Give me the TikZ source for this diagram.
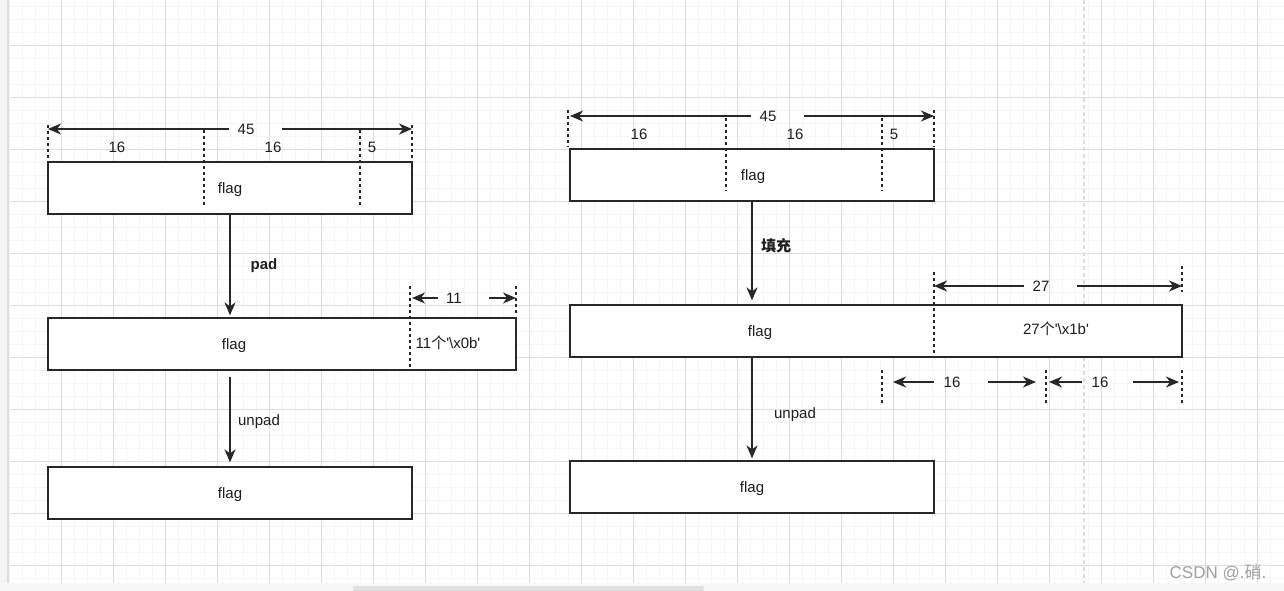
\documentclass[tikz,border=0pt]{standalone}
\usepackage{fontspec}
\setmainfont{Liberation Sans}
\newfontfamily\cjk{Noto Sans CJK SC}
\usepackage{xcolor}
\usetikzlibrary{arrows.meta, positioning, calc}
\definecolor{gridmajor}{RGB}{222, 222, 222}
\definecolor{gridminor}{RGB}{246, 246, 246}
\definecolor{boxline}{RGB}{40, 40, 40}
\definecolor{txt}{RGB}{30, 30, 30}
\definecolor{wmark}{RGB}{160, 160, 160}

\begin{document}
\begin{tikzpicture}[x=1pt, y=-1pt, font=\fontsize{15}{18}\selectfont, text=txt,
    blk/.style={draw=boxline, line width=1.3pt, fill=white, minimum height=52pt, inner sep=0pt},
    sep/.style={dash pattern=on 3pt off 3pt, line width=1.3pt, boxline},
    dim/.style={-{Stealth[length=13pt, width=11pt, inset=4pt]}, line width=1.3pt, boxline},
    flow/.style={-{Stealth[length=13pt, width=11pt, inset=4pt]}, line width=1.3pt, boxline},
    lbl/.style={inner sep=0pt}]
    \useasboundingbox (0,0) rectangle (1284,591);
    \fill[white] (0,0) rectangle (1284,591);

    % griglia
    \foreach \k in {0,...,97} \draw[gridminor, line width=1pt] ({9.5+13*\k},0) -- ++(0,583);
    \foreach \k in {0,...,45} \draw[gridminor, line width=1pt] (9.5,{6.5+13*\k}) -- (1284,{6.5+13*\k});
    \foreach \k in {1,...,24} \draw[gridmajor, line width=1pt] ({9.5+52*\k},0) -- ++(0,583);
    \foreach \k in {1,...,11} \draw[gridmajor, line width=1pt] (9.5,{-6.5+52*\k}) -- (1284,{-6.5+52*\k});
    \draw[gridmajor, line width=1.3pt, dash pattern=on 4pt off 3pt] (1084,0) -- (1084,583);
    \fill[black!4] (0,0) rectangle (7,591);
    \draw[black!13, line width=2pt] (8.3,0) -- (8.3,583);
    \fill[black!3] (0,583) rectangle (1284,591);
    \fill[black!12, rounded corners=2pt] (353,586) rectangle (704,591);

    % sinistra: pad
    \node[blk, minimum width=364pt] (lb1) at (230,188) {};
    \node[blk, minimum width=468pt] (lb2) at (282,344) {};
    \node[blk, minimum width=364pt] (lb3) at (230,493) {};
    \node[lbl] (lf1) at (230,190) {flag};
    \node[lbl] (lf2) at (234,346) {flag};
    \node[lbl] (lpad) at (448,343) {11{\cjk 个}\textquotesingle\textbackslash x0b\textquotesingle};
    \node[lbl] (lf3) at (230,495) {flag};

    \draw[sep] (48,125) -- (48,160);
    \draw[sep] (204,130) -- (204,205);
    \draw[sep] (360,130) -- (360,205);
    \draw[sep] (412,125) -- (412,160);
    \coordinate (l45a) at (48,129);
    \coordinate (l45b) at (412,129);
    \node[lbl] (l45) at (246,129) {45};
    \draw[dim] ([xshift=-8pt]l45.west) -- (l45a);
    \draw[dim] ([xshift=27pt]l45.east) -- (l45b);
    \node[lbl] at (117,147) {16};
    \node[lbl] at (273,147) {16};
    \node[lbl] at (372,147) {5};

    \draw[sep] (410,286) -- (410,368);
    \draw[sep] (516,286) -- (516,314);
    \coordinate (l11a) at (412,298);
    \coordinate (l11b) at (516,298);
    \node[lbl] (l11) at (454,298) {11};
    \draw[dim] ([xshift=-8pt]l11.west) -- (l11a);
    \draw[dim] ([xshift=27pt]l11.east) -- (l11b);

    \draw[flow] (lb1.south) -- ($(lb1.south |- lb2.north)+(0,-2)$);
    \node[lbl] at (264,266) {\bfseries pad};
    \draw[flow] ($(lb2.south -| lb3.north)+(0,6)$) -- ($(lb3.north)+(0,-4)$);
    \node[lbl] at (259,422) {unpad};

    % destra: 填充
    \node[blk, minimum width=364pt] (rb1) at (752,175) {};
    \node[blk, minimum width=612pt] (rb2) at (876,331) {};
    \node[blk, minimum width=364pt] (rb3) at (752,487) {};
    \node[lbl] (rf1) at (753,177) {flag};
    \node[lbl] (rf2) at (760,333) {flag};
    \node[lbl] (rpad) at (1056,329) {27{\cjk 个}\textquotesingle\textbackslash x1b\textquotesingle};
    \node[lbl] (rf3) at (752,489) {flag};

    \draw[sep] (568,110) -- (568,147);
    \draw[sep] (726,118) -- (726,191);
    \draw[sep] (882,118) -- (882,191);
    \draw[sep] (934,110) -- (934,147);
    \coordinate (r45a) at (570,116);
    \coordinate (r45b) at (934,116);
    \node[lbl] (r45) at (768,116) {45};
    \draw[dim] ([xshift=-8pt]r45.west) -- (r45a);
    \draw[dim] ([xshift=27pt]r45.east) -- (r45b);
    \node[lbl] at (639,134) {16};
    \node[lbl] at (795,134) {16};
    \node[lbl] at (894,134) {5};

    \draw[sep] (934,272) -- (934,355);
    \draw[sep] (1182,266) -- (1182,292);
    \coordinate (r27a) at (934,286);
    \coordinate (r27b) at (1182,286);
    \node[lbl] (r27) at (1041,286) {27};
    \draw[dim] ([xshift=-8pt]r27.west) -- (r27a);
    \draw[dim] ([xshift=27pt]r27.east) -- (r27b);

    \draw[sep] (882,370) -- (882,405);
    \draw[sep] (1046,370) -- (1046,405);
    \draw[sep] (1182,370) -- (1182,405);
    \coordinate (r16a) at (893,382);
    \coordinate (r16b) at (1036,382);
    \coordinate (r16c) at (1049,382);
    \coordinate (r16d) at (1179,382);
    \node[lbl] (r16l) at (952,382) {16};
    \node[lbl] (r16r) at (1100,382) {16};
    \draw[dim] ([xshift=-9pt]r16l.west) -- (r16a);
    \draw[dim] ([xshift=27pt]r16l.east) -- (r16b);
    \draw[dim] ([xshift=-9pt]r16r.west) -- (r16c);
    \draw[dim] ([xshift=24pt]r16r.east) -- (r16d);

    \draw[flow] (rb1.south) -- ($(rb1.south |- rb2.north)+(0,-4)$);
    \node[lbl] at (776,246) {\cjk\bfseries 填充};
    \draw[flow] (rb2.south -| rb3.north) -- ($(rb3.north)+(0,-2)$);
    \node[lbl] at (795,415) {unpad};

    \node[lbl, text=wmark, font=\fontsize{17}{20}\selectfont] at (1218,573) {CSDN @.{\cjk 硝}.};
\end{tikzpicture}
\end{document}
